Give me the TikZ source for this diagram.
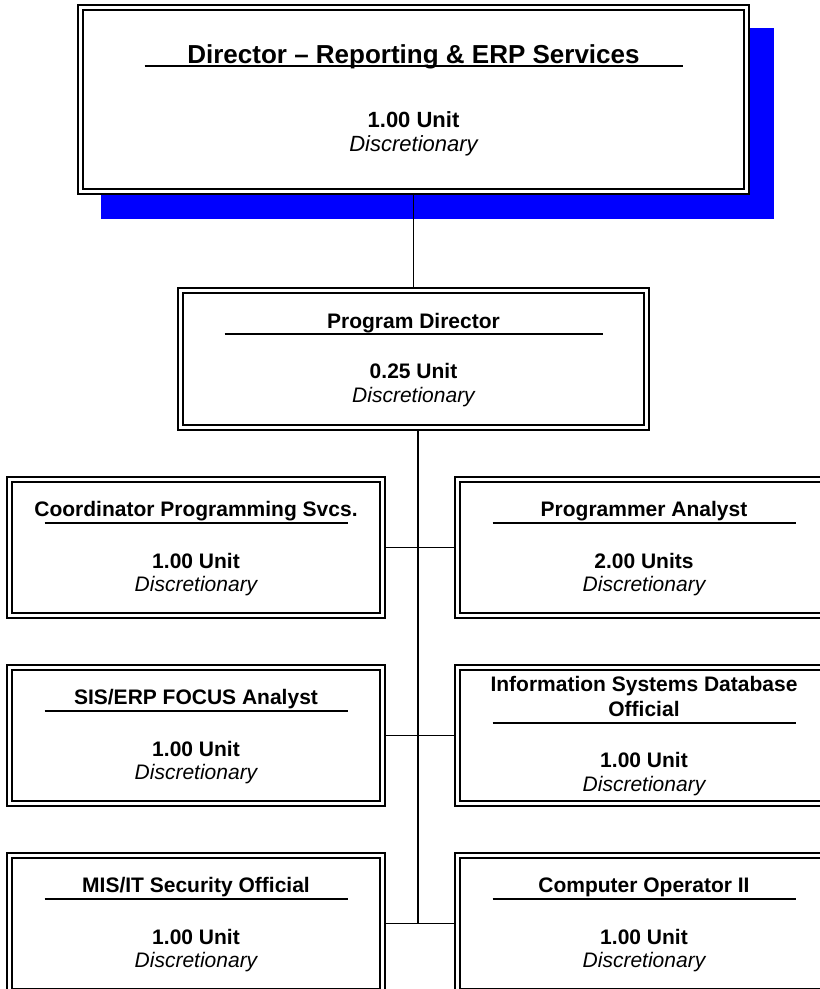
\documentclass[tikz,border=0pt]{standalone}
\usepackage{fontspec}
\setmainfont{Liberation Sans}
\usetikzlibrary{backgrounds}

\begin{document}
\begin{tikzpicture}[x=1pt, y=-1pt,
    post/.style={rectangle, draw, double, fill=white, line width=1.5pt, double distance=3.5pt,
                 inner sep=0pt, outer sep=3.25pt, minimum width=373pt, minimum height=136pt},
    ttl/.style={font=\bfseries\fontsize{21}{24.4}\selectfont, inner sep=0pt, anchor=base},
    units/.style={font=\bfseries\fontsize{21}{24.4}\selectfont, inner sep=0pt, anchor=base},
    disc/.style={font=\itshape\fontsize{21}{24.4}\selectfont, inner sep=0pt, anchor=base},
    uline/.style={line width=1.8pt},
    wire/.style={line width=1.8pt}]
    \useasboundingbox (0,0) rectangle (820,989);
    \clip (0,0) rectangle (820,989);

    % Director box with its blue shadow
    \node (dir) [post, minimum width=666pt, minimum height=184pt] at (413.5,99.5) {};
    \begin{scope}[on background layer]
        \fill[blue] ([xshift=24pt,yshift=-24pt]dir.north west) rectangle ([xshift=24pt,yshift=-24pt]dir.south east);
    \end{scope}
    \node (dirt) [ttl, font=\bfseries\fontsize{26}{30}\selectfont] at (413.5,63.3) {Director – Reporting \& ERP Services};
    \draw[uline] ([xshift=-269pt,yshift=-2.4pt]dirt.base) -- ([xshift=269pt,yshift=-2.4pt]dirt.base);
    \node (diru) [units, font=\bfseries\fontsize{22}{26}\selectfont] at (413.5,127.3) {1.00 Unit};
    \node (dird) [disc, font=\itshape\fontsize{22}{26}\selectfont] at (413.5,151.5) {Discretionary};

    % Program director
    \node (pd) [post, minimum width=466pt, minimum height=137pt] at (413.5,359) {};
    \node (pdt) [ttl] at (413.5,328.3) {Program Director};
    \draw[uline] ([xshift=-189pt,yshift=-5.7pt]pdt.base) -- ([xshift=189pt,yshift=-5.7pt]pdt.base);
    \node (pdu) [units] at (413.5,378) {0.25 Unit};
    \node (pdd) [disc] at (413.5,402.7) {Discretionary};

    % Row 1
    \node (cps) [post] at (196,547.5) {};
    \node (cpst) [ttl] at (196,516.7) {Coordinator Programming Svcs.};
    \draw[uline] ([xshift=-151.5pt,yshift=-6pt]cpst.base) -- ([xshift=151.5pt,yshift=-6pt]cpst.base);
    \node (cpsu) [units] at (196,568.3) {1.00 Unit};
    \node (cpsd) [disc] at (196,591.7) {Discretionary};

    \node (pa) [post] at (644,547.5) {};
    \node (pat) [ttl] at (644,516.7) {Programmer Analyst};
    \draw[uline] ([xshift=-151.5pt,yshift=-6pt]pat.base) -- ([xshift=151.5pt,yshift=-6pt]pat.base);
    \node (pau) [units] at (644,568.3) {2.00 Units};
    \node (pad) [disc] at (644,591.7) {Discretionary};

    % Row 2
    \node (sis) [post] at (196,735.5) {};
    \node (sist) [ttl] at (196,704.7) {SIS/ERP FOCUS Analyst};
    \draw[uline] ([xshift=-151.5pt,yshift=-6pt]sist.base) -- ([xshift=151.5pt,yshift=-6pt]sist.base);
    \node (sisu) [units] at (196,756.3) {1.00 Unit};
    \node (sisd) [disc] at (196,779.7) {Discretionary};

    \node (isd) [post] at (644,735.5) {};
    \node (isdt) [ttl, anchor=south, align=center] at (644,716.7) {Information Systems Database\\Official};
    \draw[uline] ([xshift=-151.5pt,yshift=-6.6pt]isdt.south) -- ([xshift=151.5pt,yshift=-6.6pt]isdt.south);
    \node (isdu) [units] at (644,767.3) {1.00 Unit};
    \node (isdd) [disc] at (644,791.7) {Discretionary};

    % Row 3
    \node (mis) [post] at (196,923.5) {};
    \node (mist) [ttl] at (196,892.7) {MIS/IT Security Official};
    \draw[uline] ([xshift=-151.5pt,yshift=-6pt]mist.base) -- ([xshift=151.5pt,yshift=-6pt]mist.base);
    \node (misu) [units] at (196,944.3) {1.00 Unit};
    \node (misd) [disc] at (196,967.7) {Discretionary};

    \node (cop) [post] at (644,923.5) {};
    \node (copt) [ttl] at (644,892.7) {Computer Operator II};
    \draw[uline] ([xshift=-151.5pt,yshift=-6pt]copt.base) -- ([xshift=151.5pt,yshift=-6pt]copt.base);
    \node (copu) [units] at (644,944.3) {1.00 Unit};
    \node (copd) [disc] at (644,967.7) {Discretionary};

    % Connectors
    \coordinate (trunk) at ([xshift=4.5pt]pd.south);
    \draw[wire] (dir) -- (pd);
    \draw[wire] (trunk) -- (trunk |- cop.west);
    \draw[wire] (cps.east) -- (pa.west);
    \draw[wire] (sis.east) -- (isd.west);
    \draw[wire] (mis.east) -- (cop.west);
\end{tikzpicture}
\end{document}
